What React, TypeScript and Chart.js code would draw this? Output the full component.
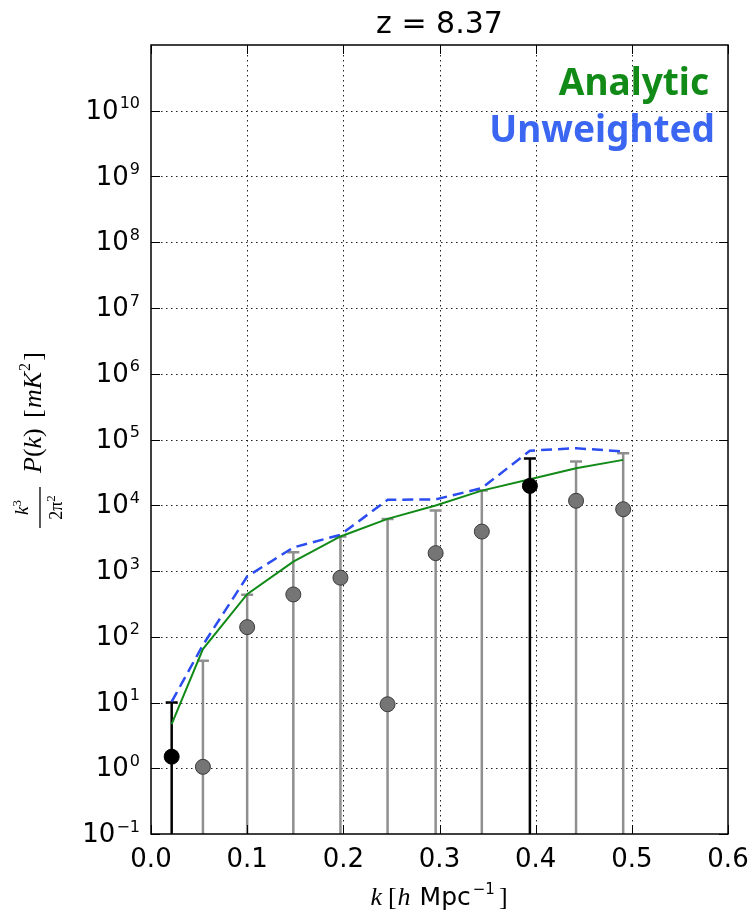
import React, { useEffect, useRef } from "react";
import { Chart, registerables } from "chart.js";

Chart.register(...registerables);

// ---------- data ----------
const TITLE = "z = 8.37";
const kValues = [0.0215, 0.054, 0.1, 0.148, 0.197, 0.246, 0.296, 0.344, 0.394, 0.442, 0.491];
const measured = [1.5, 1.05, 140, 440, 790, 9.4, 1870, 3980, 19700, 11700, 8700];
const upperBounds = [10, 43, 434, 1935, 3350, 6200, 8300, 16700, 51500, 46200, 62000];
const lowerBounds = [0.001, 0.001, 0.001, 0.001, 0.001, 0.001, 0.001, 0.001, 0.001, 0.001, 0.001];
const isHighlighted = [true, false, false, false, false, false, false, false, true, false, false];
const analytic = [4.7, 65, 444, 1390, 3350, 6200, 9900, 16700, 24900, 36600, 49000];
const unweighted = [10.3, 75, 824, 2280, 3550, 12100, 12300, 18200, 67600, 73800, 65600];
const xTicks = [0, 0.1, 0.2, 0.3, 0.4, 0.5, 0.6];
const yExponents = [-1, 0, 1, 2, 3, 4, 5, 6, 7, 8, 9, 10];
const legendLabels = ["Analytic", "Unweighted"];

const SANS = '"DejaVu Sans", sans-serif';
const SERIF = '"Liberation Serif", serif';
const GREEN = "#118a18";
const BLUE_LINE = "#2a4cf0";
const BLUE_TEXT = "#3a66f2";

type Run = { text: string; font: string; dy?: number; gap?: number };

function runsWidth(ctx: CanvasRenderingContext2D, runs: Run[]) {
  let w = 0;
  for (const r of runs) {
    ctx.font = r.font;
    w += ctx.measureText(r.text).width + (r.gap || 0);
  }
  return w;
}
function drawRuns(ctx: CanvasRenderingContext2D, runs: Run[], x: number, y: number) {
  let cx = x;
  for (const r of runs) {
    ctx.font = r.font;
    ctx.fillText(r.text, cx, y + (r.dy || 0));
    cx += ctx.measureText(r.text).width + (r.gap || 0);
  }
  return cx;
}

const decorPlugin = {
  id: "decor",
  beforeDatasetsDraw(chart: any) {
    const { ctx, chartArea: a } = chart;
    const xs = chart.scales.x;
    const ys = chart.scales.y;
    // dotted grid
    ctx.save();
    ctx.strokeStyle = "#222";
    ctx.lineWidth = 1;
    ctx.setLineDash([1.5, 3.5]);
    for (const t of xTicks) {
      const px = Math.round(xs.getPixelForValue(t)) + 0.5;
      if (px <= a.left + 2 || px >= a.right - 2) continue;
      ctx.beginPath();
      ctx.moveTo(px, a.top);
      ctx.lineTo(px, a.bottom);
      ctx.stroke();
    }
    for (const e of yExponents) {
      const py = Math.round(ys.getPixelForValue(Math.pow(10, e))) + 0.5;
      if (py <= a.top + 2 || py >= a.bottom - 2) continue;
      ctx.beginPath();
      ctx.moveTo(a.left, py);
      ctx.lineTo(a.right, py);
      ctx.stroke();
    }
    ctx.restore();

    // error bars
    ctx.save();
    ctx.beginPath();
    ctx.rect(a.left, a.top, a.right - a.left, a.bottom - a.top);
    ctx.clip();
    ctx.lineWidth = 2.5;
    for (let i = 0; i < kValues.length; i++) {
      const px = xs.getPixelForValue(kValues[i]);
      const top = ys.getPixelForValue(upperBounds[i]);
      const bot = ys.getPixelForValue(lowerBounds[i]);
      ctx.strokeStyle = isHighlighted[i] ? "#000" : "#8f8f8f";
      ctx.beginPath();
      ctx.moveTo(px, bot);
      ctx.lineTo(px, top);
      ctx.moveTo(px - 6, top);
      ctx.lineTo(px + 6, top);
      ctx.stroke();
    }
    ctx.restore();
  },
  afterDraw(chart: any) {
    const { ctx, chartArea: a } = chart;
    const xs = chart.scales.x;
    const ys = chart.scales.y;
    ctx.save();
    // frame
    ctx.strokeStyle = "#000";
    ctx.lineWidth = 1.5;
    ctx.strokeRect(a.left, a.top, a.right - a.left, a.bottom - a.top);
    // inward ticks
    ctx.lineWidth = 1;
    ctx.beginPath();
    for (const t of xTicks) {
      const px = Math.round(xs.getPixelForValue(t)) + 0.5;
      ctx.moveTo(px, a.bottom);
      ctx.lineTo(px, a.bottom - 9);
      ctx.moveTo(px, a.top);
      ctx.lineTo(px, a.top + 9);
    }
    for (const e of yExponents) {
      const py = Math.round(ys.getPixelForValue(Math.pow(10, e))) + 0.5;
      ctx.moveTo(a.left, py);
      ctx.lineTo(a.left + 9, py);
      ctx.moveTo(a.right, py);
      ctx.lineTo(a.right - 9, py);
    }
    ctx.stroke();

    ctx.fillStyle = "#000";
    ctx.textBaseline = "alphabetic";
    // x tick labels
    ctx.font = `26px ${SANS}`;
    ctx.textAlign = "center";
    for (const t of xTicks) {
      ctx.fillText(t.toFixed(1), xs.getPixelForValue(t), 867);
    }
    // y tick labels 10^e
    ctx.textAlign = "left";
    for (const e of yExponents) {
      const py = ys.getPixelForValue(Math.pow(10, e));
      const sup = e < 0 ? "\u2212" + String(-e) : String(e);
      ctx.font = `16px ${SANS}`;
      const supW = ctx.measureText(sup).width;
      ctx.font = `26px ${SANS}`;
      const baseW = ctx.measureText("10").width;
      const right = a.left - 11;
      const bx = right - supW - baseW - 1;
      ctx.fillText("10", bx, py + 8);
      ctx.font = `16px ${SANS}`;
      ctx.fillText(sup, bx + baseW + 1, py + 8 - 10.5);
    }

    // title
    ctx.textAlign = "center";
    ctx.font = `30px ${SANS}`;
    ctx.fillText(TITLE, (a.left + a.right) / 2, 33);

    // legend texts
    ctx.textAlign = "right";
    ctx.font = `bold 37px "Noto Sans", ${SANS}`;
    ctx.fillStyle = GREEN;
    ctx.fillText(legendLabels[0], 709, 95);
    ctx.fillStyle = BLUE_TEXT;
    ctx.fillText(legendLabels[1], 715, 142);

    // x axis label: k [h Mpc^-1]
    ctx.fillStyle = "#000";
    ctx.textAlign = "left";
    const xl: Run[] = [
      { text: "k", font: `italic 26px ${SERIF}`, gap: 6 },
      { text: "[", font: `26px ${SERIF}`, gap: 1 },
      { text: "h", font: `italic 26px ${SERIF}`, gap: 9 },
      { text: "Mpc", font: `25px ${SANS}`, gap: 2 },
      { text: "\u22121", font: `15px ${SANS}`, dy: -11, gap: 4 },
      { text: "]", font: `26px ${SERIF}` },
    ];
    const xw = runsWidth(ctx, xl);
    drawRuns(ctx, xl, 439 - xw / 2, 905);

    // y axis label (rotated): local x = -screenY, local y = screenX
    ctx.rotate(-Math.PI / 2);
    const barStart = -528;
    const barEnd = -487;
    ctx.strokeStyle = "#000";
    ctx.lineWidth = 1.3;
    ctx.beginPath();
    ctx.moveTo(barStart, 40);
    ctx.lineTo(barEnd, 40);
    ctx.stroke();
    const num: Run[] = [
      { text: "k", font: `italic 19px ${SERIF}` },
      { text: "3", font: `13px ${SERIF}`, dy: -7 },
    ];
    const nw = runsWidth(ctx, num);
    drawRuns(ctx, num, (barStart + barEnd) / 2 - nw / 2, 28);
    const den: Run[] = [
      { text: "2\u03c0", font: `18px ${SERIF}` },
      { text: "2", font: `13px ${SERIF}`, dy: -7 },
    ];
    const dw = runsWidth(ctx, den);
    drawRuns(ctx, den, (barStart + barEnd) / 2 - dw / 2, 62);
    const pk: Run[] = [
      { text: "P", font: `italic 26px ${SERIF}` },
      { text: "(", font: `26px ${SERIF}` },
      { text: "k", font: `italic 26px ${SERIF}` },
      { text: ")", font: `26px ${SERIF}` },
    ];
    drawRuns(ctx, pk, -473, 41);
    ctx.font = `26px ${SERIF}`;
    ctx.fillText("[", -418, 41);
    ctx.font = `italic 26px ${SERIF}`;
    ctx.fillText("mK", -408, 41);
    const mkW = ctx.measureText("mK").width;
    ctx.font = `16px ${SERIF}`;
    ctx.fillText("2", -408 + mkW + 1, 41 - 11);
    ctx.font = `26px ${SERIF}`;
    const rbW = ctx.measureText("]").width;
    ctx.fillText("]", -352 - rbW, 41);
    ctx.restore();
  },
};

export default function App() {
  const canvasRef = useRef<HTMLCanvasElement | null>(null);

  useEffect(() => {
    const canvas = canvasRef.current;
    if (!canvas) return;
    const chart = new Chart(canvas, {
      type: "scatter",
      data: {
        datasets: [
          {
            type: "scatter",
            label: "Measured",
            data: kValues.map((k, i) => ({ x: k, y: measured[i] })),
            pointRadius: 7.5,
            pointHoverRadius: 7.5,
            pointBackgroundColor: isHighlighted.map((h) => (h ? "#000" : "#757575")),
            pointBorderColor: isHighlighted.map((h) => (h ? "#000" : "#3a3a3a")),
            pointBorderWidth: 1,
            order: 0,
          } as any,
          {
            type: "line",
            label: legendLabels[0],
            data: kValues.map((k, i) => ({ x: k, y: analytic[i] })),
            borderColor: GREEN,
            borderWidth: 2,
            pointRadius: 0,
            tension: 0,
            fill: false,
            order: 1,
          } as any,
          {
            type: "line",
            label: legendLabels[1],
            data: kValues.map((k, i) => ({ x: k, y: unweighted[i] })),
            borderColor: BLUE_LINE,
            borderWidth: 2.5,
            borderDash: [11, 6],
            pointRadius: 0,
            tension: 0,
            fill: false,
            order: 2,
          } as any,
        ],
      },
      options: {
        animation: false,
        responsive: false,
        events: [],
        layout: { padding: { left: 0, right: 28, top: 45, bottom: 0 } },
        plugins: { legend: { display: false }, tooltip: { enabled: false }, title: { display: false } },
        scales: {
          x: {
            type: "linear",
            min: 0,
            max: 0.6,
            ticks: { display: false },
            grid: { display: false },
            border: { display: false },
            afterFit: (s: any) => {
              s.height = 84;
            },
          },
          y: {
            type: "logarithmic",
            min: 0.1,
            max: 1e11,
            ticks: { display: false },
            grid: { display: false },
            border: { display: false },
            afterFit: (s: any) => {
              s.width = 151;
            },
          },
        },
      } as any,
      plugins: [decorPlugin],
    });
    return () => chart.destroy();
  }, []);

  return (
    <div style={{ position: "absolute", left: 0, top: 0, width: 756, height: 918, background: "#fff" }}>
      <canvas ref={canvasRef} width={756} height={918} style={{ display: "block" }} />
    </div>
  );
}
